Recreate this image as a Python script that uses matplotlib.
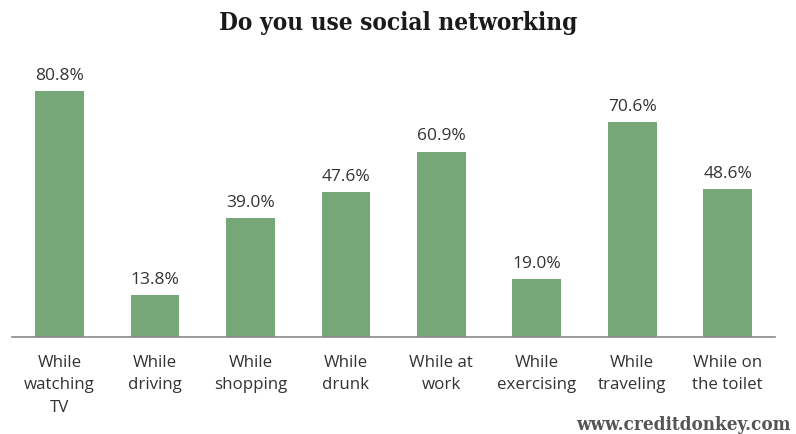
import matplotlib
matplotlib.use("Agg")
import matplotlib.pyplot as plt

categories = ["While\nwatching\nTV", "While\ndriving", "While\nshopping", "While\ndrunk",
              "While at\nwork", "While\nexercising", "While\ntraveling", "While on\nthe toilet"]
values = [80.8, 13.8, 39.0, 47.6, 60.9, 19.0, 70.6, 48.6]

bar_color = "#76a779"
text_color = "#333333"

fig = plt.figure(figsize=(7.96, 4.35), dpi=100)
ax = fig.add_axes([0.015, 0.223, 0.959, 0.662])

x = range(len(categories))
bars = ax.bar(x, values, width=0.51, color=bar_color, zorder=2)

for b, v in zip(bars, values):
    ax.annotate(f"{v:.1f}%", (b.get_x() + b.get_width() / 2, v),
                xytext=(0, 6), textcoords="offset points", ha="center", va="bottom",
                fontsize=12.5, family="Open Sans", color=text_color)

ax.set_xlim(-0.5, len(categories) - 0.5)
ax.set_ylim(0, 94.6)
ax.set_xticks(list(x))
ax.set_xticklabels(categories, fontsize=12.2, family="Open Sans", color=text_color,
                   linespacing=1.55)
ax.tick_params(axis="x", length=0, pad=12)
ax.set_yticks([])
for s in ["top", "left", "right"]:
    ax.spines[s].set_visible(False)
ax.spines["bottom"].set_color("#8a8a8a")
ax.spines["bottom"].set_linewidth(1.2)

fig.text(0.5, 0.948, "Do you use social networking", ha="center", va="center",
         fontsize=17.5, fontweight="bold", family="DejaVu Serif", fontstretch="condensed",
         color="#1a1a1a")
fig.text(0.993, 0.022, "www.creditdonkey.com", ha="right", va="center",
         fontsize=13.5, fontweight="bold", family="DejaVu Serif", fontstretch="condensed",
         color="#555555")

fig.savefig("out.png", dpi=100)
